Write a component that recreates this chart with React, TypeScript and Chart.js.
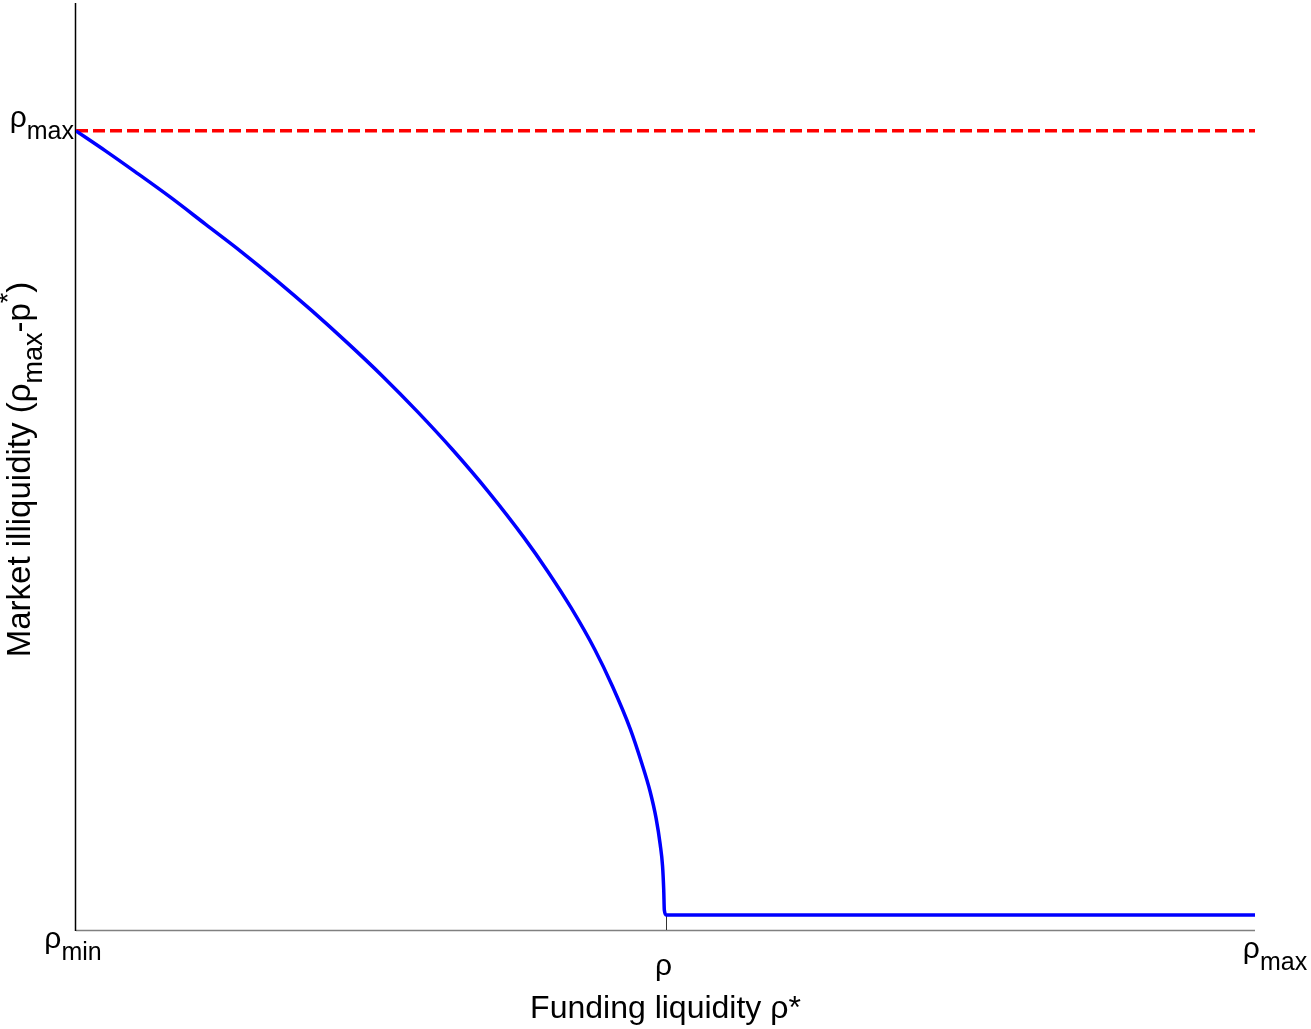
import React, { useEffect, useRef } from "react";
import { Chart, registerables } from "chart.js";

Chart.register(...registerables);

// Funding liquidity (x) vs market illiquidity (y), normalized: rho_min = 0, rho_max = 1
const curveX = [0, 0.025, 0.05, 0.08, 0.11, 0.14, 0.17, 0.2, 0.23, 0.26, 0.29, 0.32, 0.35, 0.38, 0.4, 0.42, 0.44, 0.455, 0.47, 0.48, 0.487, 0.492, 0.4955, 0.4975, 0.4985, 0.499, 0.5005, 1];
const curveY = [1, 0.975, 0.949, 0.917, 0.883, 0.849, 0.813, 0.775, 0.735, 0.693, 0.648, 0.6, 0.548, 0.491, 0.449, 0.403, 0.351, 0.305, 0.252, 0.208, 0.173, 0.14, 0.107, 0.08, 0.05, 0.025, 0.0188, 0.0188];
const refX = [0, 1];
const refY = [1, 1];

const xTickValues = [0, 0.5, 1];
const xTickMain = ["ρ", "ρ", "ρ"];
const xTickSub = ["min", "", "max"];
const yTickValues = [1];
const yTickMain = ["ρ"];
const yTickSub = ["max"];
const innerTickX = [0.5];

const xTitle = "Funding liquidity ρ*";
const yTitleParts = [
  { t: "Market illiquidity (ρ", kind: "n" },
  { t: "max", kind: "sub" },
  { t: "-p", kind: "n" },
  { t: "*", kind: "sup" },
  { t: ")", kind: "n" },
];

const FONT = "'Liberation Sans', Arial, sans-serif";
const xLabelDy = [18, 45, 28];
const xLabelDx = [-3, -2, 20];

type Part = { t: string; kind: string };
type Sizes = { n: number; s: number };

const TICK_SIZES: Sizes = { n: 30, s: 25 };
const XTITLE_SIZE = 32;
const YTITLE_SIZES: Sizes = { n: 33, s: 27 };

function partFont(kind: string, sz: Sizes) {
  return `${kind === "n" ? sz.n : sz.s}px ${FONT}`;
}
function partDy(kind: string) {
  if (kind === "sub") return 12;
  if (kind === "sup") return -13;
  return 0;
}

function richWidth(ctx: CanvasRenderingContext2D, parts: Part[], sz: Sizes) {
  let w = 0;
  for (const p of parts) {
    ctx.font = partFont(p.kind, sz);
    w += ctx.measureText(p.t).width;
  }
  return w;
}

function drawRich(ctx: CanvasRenderingContext2D, parts: Part[], x: number, y: number, sz: Sizes) {
  let cx = x;
  ctx.textAlign = "left";
  ctx.textBaseline = "alphabetic";
  for (const p of parts) {
    ctx.font = partFont(p.kind, sz);
    ctx.fillText(p.t, cx, y + partDy(p.kind));
    cx += ctx.measureText(p.t).width;
  }
}

const axesPlugin = {
  id: "matlabAxes",
  beforeDatasetsDraw(chart: any) {
    const ctx: CanvasRenderingContext2D = chart.ctx;
    const { left, right, top, bottom } = chart.chartArea;
    const xs = chart.scales.x;
    ctx.save();
    // bottom axis (gray)
    ctx.strokeStyle = "#808080";
    ctx.lineWidth = 1.5;
    ctx.beginPath();
    ctx.moveTo(left, bottom + 0.5);
    ctx.lineTo(right, bottom + 0.5);
    ctx.stroke();
    // left axis (black)
    ctx.strokeStyle = "#000";
    ctx.lineWidth = 1.5;
    ctx.beginPath();
    ctx.moveTo(left - 0.5, top);
    ctx.lineTo(left - 0.5, bottom + 1);
    ctx.stroke();
    // inward tick
    ctx.lineWidth = 1;
    ctx.strokeStyle = "#333";
    for (const v of innerTickX) {
      const px = Math.round(xs.getPixelForValue(v)) + 0.5;
      ctx.beginPath();
      ctx.moveTo(px, bottom);
      ctx.lineTo(px, bottom - 14);
      ctx.stroke();
    }
    ctx.restore();
  },
  afterDraw(chart: any) {
    const ctx: CanvasRenderingContext2D = chart.ctx;
    const { left, top, bottom } = chart.chartArea;
    const xs = chart.scales.x;
    const ys = chart.scales.y;
    ctx.save();
    ctx.fillStyle = "#000";
    // x tick labels
    xTickValues.forEach((v, i) => {
      const parts: Part[] = [{ t: xTickMain[i], kind: "n" }];
      if (xTickSub[i]) parts.push({ t: xTickSub[i], kind: "sub" });
      const w = richWidth(ctx, parts, TICK_SIZES);
      const px = xs.getPixelForValue(v);
      drawRich(ctx, parts, px - w / 2 + xLabelDx[i], bottom + xLabelDy[i], TICK_SIZES);
    });
    // y tick labels
    yTickValues.forEach((v, i) => {
      const parts: Part[] = [{ t: yTickMain[i], kind: "n" }];
      if (yTickSub[i]) parts.push({ t: yTickSub[i], kind: "sub" });
      const w = richWidth(ctx, parts, TICK_SIZES);
      const py = ys.getPixelForValue(v);
      drawRich(ctx, parts, left - 2 - w, py - 4, TICK_SIZES);
    });
    // x title
    ctx.font = `${XTITLE_SIZE}px ${FONT}`;
    ctx.textAlign = "center";
    ctx.textBaseline = "alphabetic";
    ctx.fillText(xTitle, (xs.left + xs.right) / 2, bottom + 88);
    // y title (rotated)
    const w = richWidth(ctx, yTitleParts, YTITLE_SIZES);
    ctx.translate(30, (top + bottom) / 2 + 3);
    ctx.rotate(-Math.PI / 2);
    drawRich(ctx, yTitleParts, -w / 2, 0, YTITLE_SIZES);
    ctx.restore();
  },
};

export default function App() {
  const canvasRef = useRef<HTMLCanvasElement | null>(null);

  useEffect(() => {
    const canvas = canvasRef.current;
    if (!canvas) return;
    const chart = new Chart(canvas, {
      type: "scatter",
      data: {
        datasets: [
          {
            label: "curve",
            data: curveX.map((x, i) => ({ x, y: curveY[i] })),
            showLine: true,
            borderColor: "#0000ff",
            borderWidth: 3.5,
            pointRadius: 0,
            cubicInterpolationMode: "monotone",
            fill: false,
          },
          {
            label: "rho max",
            data: refX.map((x, i) => ({ x, y: refY[i] })),
            showLine: true,
            borderColor: "#ff0000",
            borderWidth: 3.5,
            borderDash: [12, 5],
            pointRadius: 0,
            fill: false,
          },
        ],
      },
      options: {
        responsive: false,
        animation: false,
        devicePixelRatio: 1,
        layout: { padding: { left: 76, right: 56, top: 3, bottom: 99 } },
        plugins: { legend: { display: false }, tooltip: { enabled: false } },
        scales: {
          x: {
            type: "linear",
            min: 0,
            max: 1,
            grid: { display: false },
            border: { display: false },
            ticks: { display: false },
            afterFit: (s: any) => {
              s.height = 0;
            },
          },
          y: {
            type: "linear",
            min: 0,
            max: 1.16,
            grid: { display: false },
            border: { display: false },
            ticks: { display: false },
            afterFit: (s: any) => {
              s.width = 0;
            },
          },
        },
      },
      plugins: [axesPlugin],
    });
    return () => chart.destroy();
  }, []);

  return (
    <div style={{ position: "fixed", left: 0, top: 0, width: 1311, height: 1029, background: "#fff" }}>
      <canvas ref={canvasRef} width={1311} height={1029} style={{ width: 1311, height: 1029 }} />
    </div>
  );
}
